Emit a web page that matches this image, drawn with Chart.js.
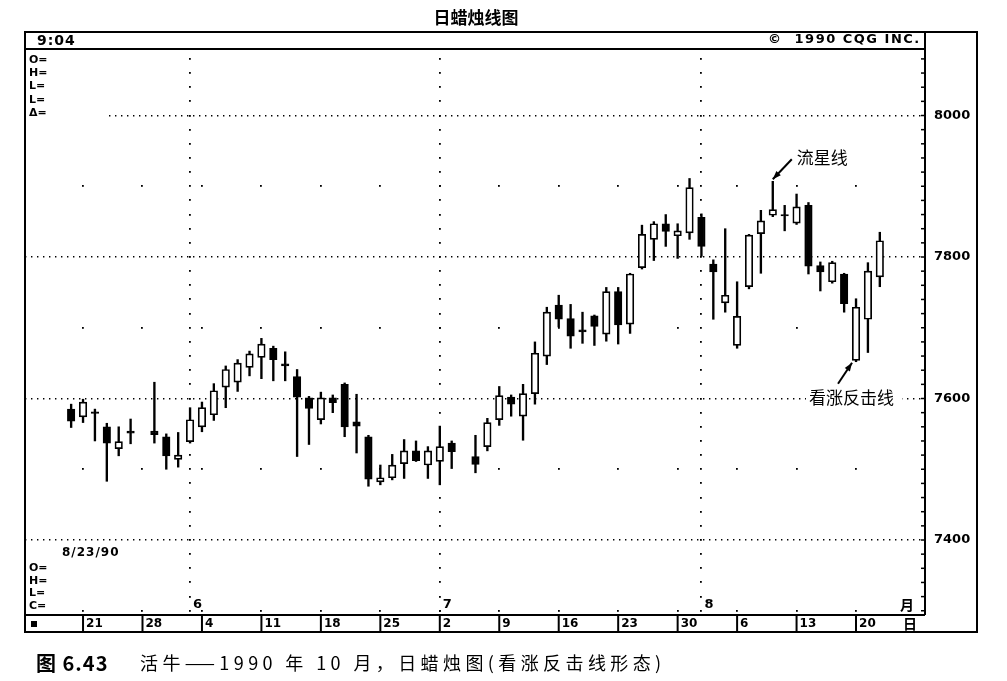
<!DOCTYPE html>
<html>
<head>
<meta charset="utf-8">
<script src="https://cdn.jsdelivr.net/npm/chart.js@4.4.1/dist/chart.umd.min.js"></script>
<style>
  body { margin: 0; background: #fff; }
  canvas { display: block; }
</style>
</head>
<body>
<canvas id="chart" width="1007" height="681"></canvas>
<script>
// ---------- DATA ----------
// trading-day slot of every candle (slots 6 and 33 have no bar)
const days = [0, 1, 2, 3, 4, 5, 7, 8, 9, 10, 11, 12, 13, 14, 15, 16, 17, 18, 19, 20, 21, 22, 23, 24, 25, 26, 27, 28, 29, 30, 31, 32,
  34, 35, 36, 37, 38, 39, 40, 41, 42, 43, 44, 45, 46, 47, 48, 49, 50, 51, 52, 53, 54, 55, 56, 57, 58, 59, 60, 61, 62, 63, 64, 65, 66, 67, 68];
const opens = [7585, 7574, 7581, 7560, 7529, 7554, 7554, 7546, 7514, 7539, 7560, 7577, 7616, 7623, 7644, 7658, 7671, 7649, 7631, 7601, 7570, 7601,
  7620, 7567, 7546, 7482, 7488, 7508, 7526, 7506, 7511, 7537,
  7518, 7532, 7570, 7602, 7575, 7607, 7660, 7732, 7713, 7697, 7717, 7691, 7751, 7705, 7785, 7825, 7847, 7830, 7834, 7856, 7790, 7735, 7675, 7758,
  7833, 7859, 7860, 7848, 7873, 7788, 7765, 7776, 7654, 7712, 7772];
const highs = [7592, 7599, 7585, 7565, 7560, 7571, 7623, 7550, 7552, 7587, 7595, 7621, 7646, 7655, 7667, 7685, 7674, 7666, 7641, 7603, 7609, 7605,
  7622, 7606, 7548, 7506, 7521, 7542, 7540, 7532, 7561, 7540,
  7548, 7572, 7617, 7605, 7620, 7680, 7729, 7746, 7733, 7722, 7718, 7757, 7757, 7777, 7845, 7850, 7860, 7847, 7911, 7861, 7796, 7840, 7765, 7832,
  7866, 7907, 7873, 7889, 7877, 7793, 7794, 7777, 7741, 7792, 7835];
const lows = [7559, 7566, 7540, 7483, 7519, 7536, 7537, 7500, 7503, 7537, 7553, 7569, 7587, 7610, 7632, 7628, 7625, 7625, 7518, 7535, 7564, 7580,
  7546, 7523, 7476, 7478, 7485, 7487, 7511, 7487, 7478, 7501,
  7495, 7526, 7562, 7575, 7541, 7592, 7648, 7701, 7671, 7678, 7675, 7681, 7677, 7692, 7783, 7795, 7815, 7798, 7825, 7801, 7712, 7722, 7671, 7755,
  7777, 7857, 7837, 7846, 7776, 7752, 7763, 7722, 7652, 7665, 7758];
const closes = [7568, 7595, 7579, 7537, 7539, 7551, 7549, 7519, 7520, 7570, 7587, 7611, 7641, 7650, 7663, 7677, 7655, 7646, 7602, 7586, 7601, 7594,
  7560, 7561, 7486, 7488, 7506, 7526, 7512, 7526, 7532, 7525,
  7507, 7566, 7604, 7592, 7607, 7664, 7722, 7712, 7688, 7694, 7702, 7751, 7704, 7776, 7832, 7847, 7836, 7837, 7898, 7815, 7779, 7746, 7716, 7831,
  7851, 7867, 7858, 7871, 7787, 7779, 7792, 7734, 7729, 7780, 7823];

// bottom date strip: first slot of each week and its label
const weekStarts = [1, 6, 11, 16, 21, 26, 31, 36, 41, 46, 51, 56, 61, 66];
const weekLabels = ["21", "28", "4", "11", "18", "25", "2", "9", "16", "23", "30", "6", "13", "20"];
// month change markers
const monthStarts = [10, 31, 53];
const monthLabels = ["6", "7", "8"];
// price axis
const yTicks = [7400, 7600, 7800, 8000];
const minorLevels = [7300, 7500, 7700, 7900];

// annotations: slot of the candle pointed at
const shootingStarDay = 59;
const counterattackDay = 66;

const upColor = "#ffffff";
const downColor = "#000000";

// ---------- CHART ----------
const bodyData = days.map((d, i) => ({ x: d, y: [opens[i], closes[i]] }));
const wickData = days.map((d, i) => ({ x: d, y: [lows[i], highs[i]] }));
const bodyColors = days.map((d, i) => (closes[i] >= opens[i] ? upColor : downColor));

const cjk = '"Noto Sans CJK SC", sans-serif';
const plotFont = '"DejaVu Sans", sans-serif';

// Dotted marks, frame and all the printed texts around the plot
const decorPlugin = {
  id: "decor",
  beforeDatasetsDraw(chart) {
    const { ctx, scales: { x, y }, chartArea: a } = chart;
    ctx.save();
    // top price line starts after the O=/H=/L= block
    ctx.fillStyle = "#fff";
    ctx.fillRect(a.left + 1, y.getPixelForValue(yTicks[yTicks.length - 1]) - 3, 80, 6);
    ctx.fillStyle = "#000";
    const dot = (px, py) => ctx.fillRect(Math.round(px) - 1, Math.round(py) - 1, 1.8, 1.8);
    // sparse dots on week boundaries
    weekStarts.forEach((w) => minorLevels.forEach((v) => dot(x.getPixelForValue(w), y.getPixelForValue(v))));
    // month boundaries: dotted every 20 points
    monthStarts.forEach((m) => {
      for (let v = 7300; v <= 8080; v += 20) dot(x.getPixelForValue(m), y.getPixelForValue(v));
    });
    ctx.restore();
  },
  afterDraw(chart) {
    const { ctx, scales: { x, y }, chartArea: a } = chart;
    ctx.save();
    ctx.strokeStyle = "#000";
    ctx.fillStyle = "#000";
    ctx.lineWidth = 2;
    const line = (x1, y1, x2, y2) => {
      ctx.beginPath();
      ctx.moveTo(x1, y1);
      ctx.lineTo(x2, y2);
      ctx.stroke();
    };
    const outerRight = a.right + 52;
    const stripBottom = a.bottom + 17;
    const headTop = a.top - 17;

    // frame
    ctx.strokeRect(a.left, headTop, outerRight - a.left, stripBottom - headTop);
    line(a.left, a.top, a.right, a.top);
    line(a.right, headTop, a.right, a.bottom);
    line(a.left, a.bottom, a.right, a.bottom);

    // small ticks on the price side
    ctx.lineWidth = 1.5;
    for (let v = 7300; v <= 8080; v += 20) {
      const py = y.getPixelForValue(v);
      line(a.right - 4, py, a.right, py);
    }

    // week strip
    ctx.lineWidth = 2;
    ctx.font = "bold 12px " + plotFont;
    ctx.textBaseline = "middle";
    ctx.textAlign = "left";
    weekStarts.forEach((w, i) => {
      const px = x.getPixelForValue(w);
      line(px, a.bottom, px, stripBottom);
      ctx.fillText(weekLabels[i], px + 3, a.bottom + 9);
    });
    ctx.fillRect(a.left + 6, a.bottom + 6, 6, 6);

    // month labels
    ctx.font = "bold 13px " + plotFont;
    monthStarts.forEach((m, i) => {
      ctx.fillText(monthLabels[i], x.getPixelForValue(m) + 3, a.bottom - 10);
    });
    ctx.font = "bold 14px " + cjk;
    ctx.fillText("月", a.right - 25, a.bottom - 10);
    ctx.fillText("日", a.right - 22, a.bottom + 9);

    // header texts
    ctx.font = "bold 14px " + plotFont;
    ctx.letterSpacing = "1px";
    ctx.fillText("9:04", a.left + 12, headTop + 9);
    ctx.letterSpacing = "1.5px";
    ctx.font = "bold 13px " + plotFont;
    ctx.fillText("©  1990 CQG INC.", 768, headTop + 8);
    ctx.letterSpacing = "0px";
    ctx.font = "bold 11px " + plotFont;
    ["O=", "H=", "L=", "L=", "Δ="].forEach((t, i) => ctx.fillText(t, a.left + 4, 60 + i * 13.3));
    ctx.letterSpacing = "1px";
    ctx.font = "bold 12px " + plotFont;
    ctx.fillText("8/23/90", a.left + 37, 553);
    ctx.letterSpacing = "0px";
    ctx.font = "bold 11px " + plotFont;
    ["O=", "H=", "L=", "C="].forEach((t, i) => ctx.fillText(t, a.left + 4, 568 + i * 12.7));

    // title and caption
    ctx.textAlign = "center";
    ctx.font = "bold 17px " + cjk;
    ctx.fillText("日蜡烛线图", 476, 18);
    ctx.textAlign = "left";
    ctx.font = "bold 20px " + cjk;
    ctx.letterSpacing = "1px";
    ctx.fillText("图 6.43", 36, 663);
    ctx.font = "18px " + cjk;
    ctx.letterSpacing = "4.4px";
    ctx.fillText("活牛——1990 年 10 月，日蜡烛图(看涨反击线形态)", 140, 663);
    ctx.letterSpacing = "0px";

    // annotations with arrows
    const arrow = (x1, y1, x2, y2) => {
      ctx.lineWidth = 2;
      line(x1, y1, x2, y2);
      const ang = Math.atan2(y2 - y1, x2 - x1);
      ctx.beginPath();
      ctx.moveTo(x2, y2);
      ctx.lineTo(x2 - 9 * Math.cos(ang - 0.35), y2 - 9 * Math.sin(ang - 0.35));
      ctx.lineTo(x2 - 9 * Math.cos(ang + 0.35), y2 - 9 * Math.sin(ang + 0.35));
      ctx.closePath();
      ctx.fill();
    };
    const si = days.indexOf(shootingStarDay);
    const sx = x.getPixelForValue(shootingStarDay);
    const sy = y.getPixelForValue(highs[si]);
    arrow(sx + 19, sy - 22, sx, sy - 2);
    const ci = days.indexOf(counterattackDay);
    const cx = x.getPixelForValue(counterattackDay) - 4;
    const cy = y.getPixelForValue(lows[ci]);
    arrow(cx - 14, cy + 22, cx, cy + 1);
    ctx.font = "17px " + cjk;
    ctx.fillStyle = "#fff";
    ctx.fillRect(806, 387, 96, 22);
    ctx.fillStyle = "#000";
    ctx.fillText("流星线", sx + 24, sy - 24);
    ctx.fillText("看涨反击线", 809, 398);
    ctx.restore();
  },
};

const chart = new Chart(document.getElementById("chart"), {
  type: "bar",
  data: {
    datasets: [
      {
        label: "body",
        data: bodyData,
        backgroundColor: bodyColors,
        borderColor: "#000",
        borderWidth: 1.7,
        borderSkipped: false,
        barThickness: 7.5,
        grouped: false,
        order: 0,
      },
      {
        label: "wick",
        data: wickData,
        backgroundColor: "#000",
        borderWidth: 0,
        barThickness: 1.7,
        grouped: false,
        order: 1,
      },
    ],
  },
  options: {
    responsive: false,
    animation: false,
    layout: { padding: { left: 25, right: 30, top: 49, bottom: 66 } },
    plugins: { legend: { display: false }, tooltip: { enabled: false } },
    scales: {
      x: {
        type: "linear",
        display: false,
        offset: false,
        min: -3.88,
        max: 71.8,
      },
      y: {
        position: "right",
        min: 7294,
        max: 8094,
        afterFit(scale) {
          scale.width = 52;
        },
        afterBuildTicks(scale) {
          scale.ticks = yTicks.map((v) => ({ value: v }));
        },
        ticks: {
          color: "#000",
          padding: 9,
          font: { family: plotFont, weight: "bold", size: 13 },
          callback: (v) => String(v),
        },
        grid: { color: "#000", lineWidth: 1.4, drawTicks: false },
        border: { display: false, dash: [1.4, 4.6] },
      },
    },
  },
  plugins: [decorPlugin],
});
</script>
</body>
</html>
